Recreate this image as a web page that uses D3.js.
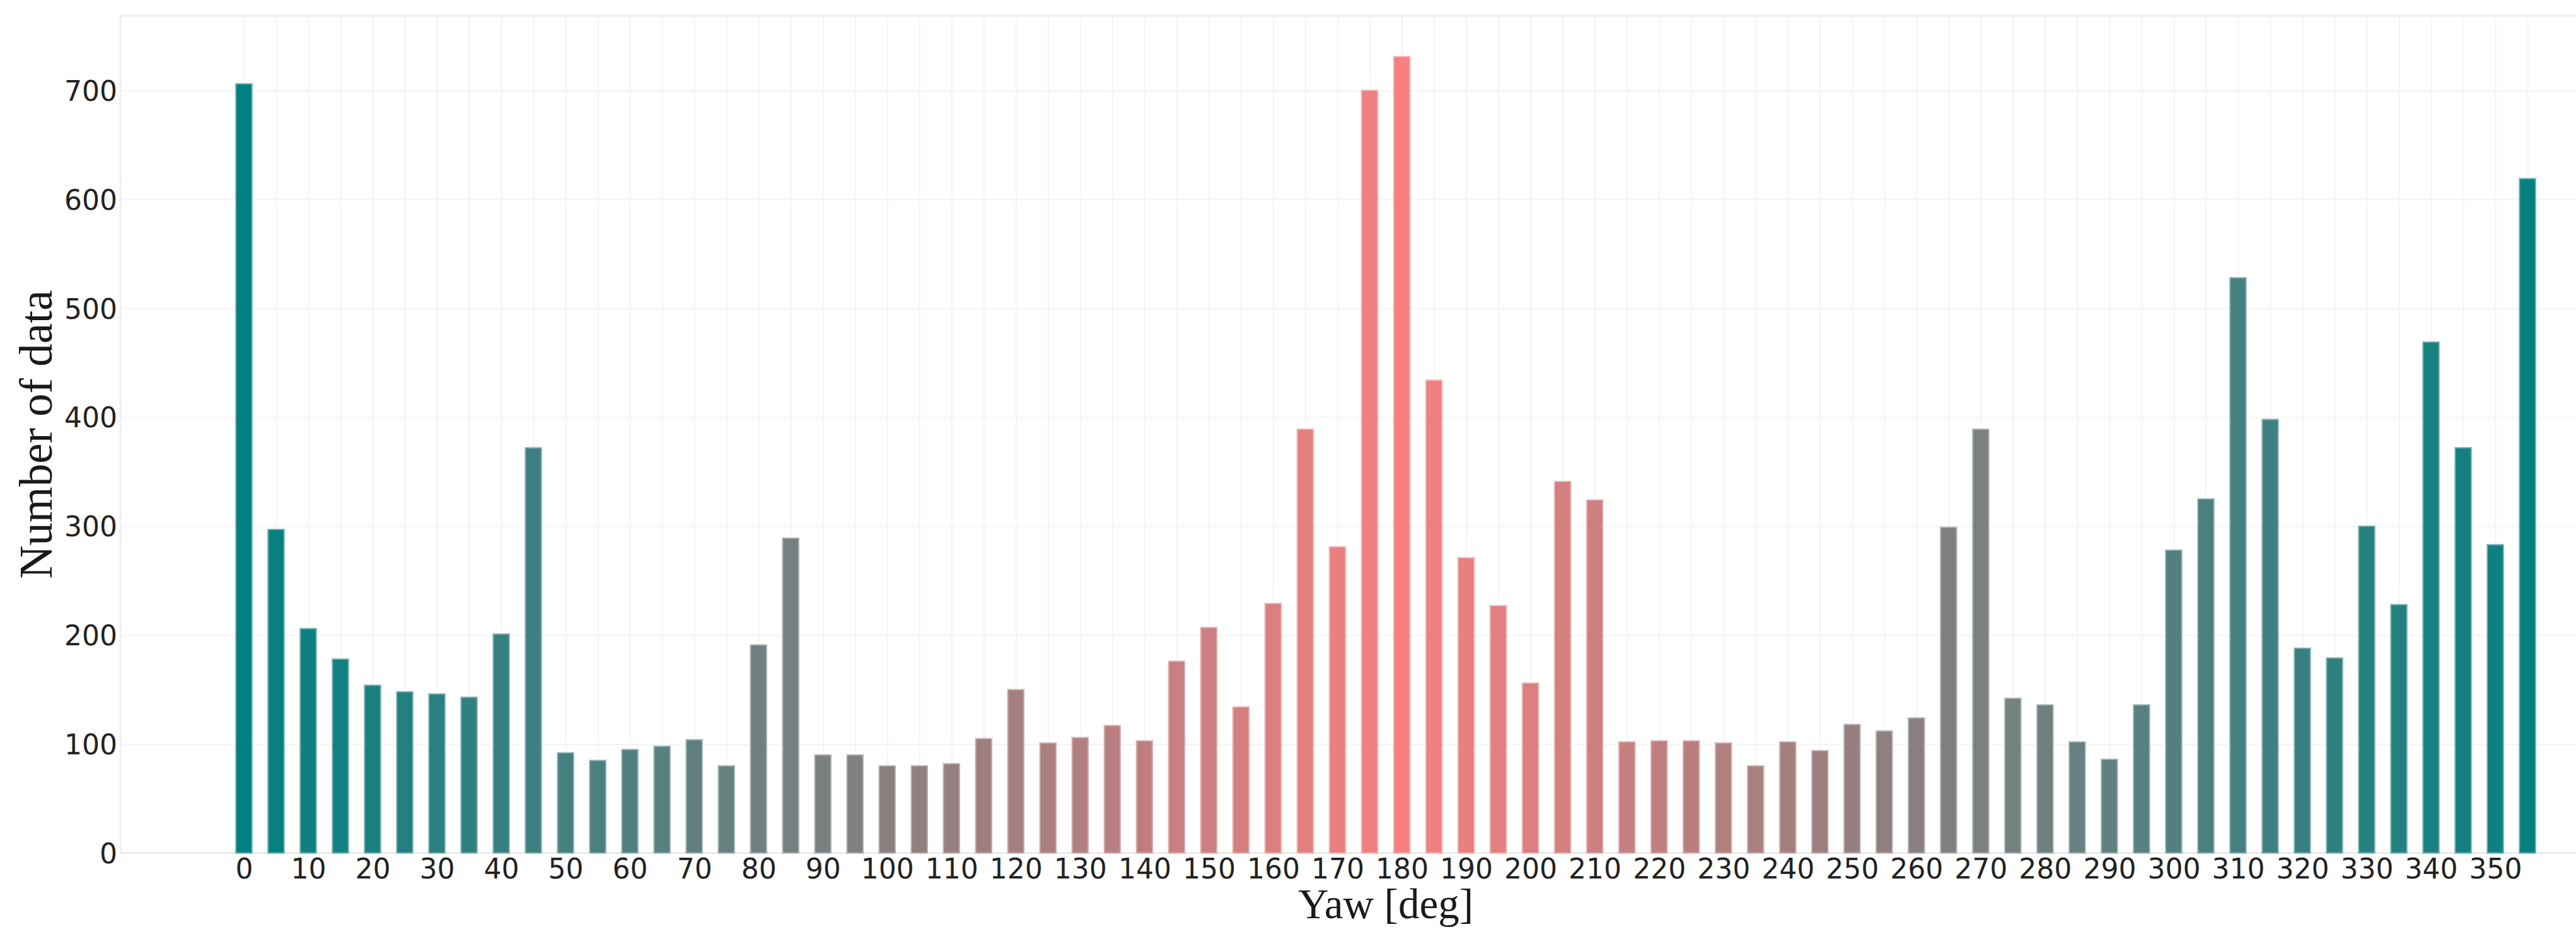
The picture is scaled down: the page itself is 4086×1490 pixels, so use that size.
<!DOCTYPE html>
<html>
<head>
<meta charset="utf-8">
<title>Yaw histogram</title>
<script src="https://cdn.jsdelivr.net/npm/d3@7"></script>
<style>
  body { margin: 0; background: #ffffff; }
  svg { display: block; overflow: hidden; }
  .tick-label { font-family: "DejaVu Sans", Verdana, sans-serif; font-size: 44px; fill: #222222; }
  .title { font-family: "Liberation Serif", "Times New Roman", serif; fill: #1a1a1a; }
</style>
</head>
<body>
<script>
// yaw bins (deg) and number of samples in each bin
var yawBins = [0, 5, 10, 15, 20, 25, 30, 35, 40, 45, 50, 55, 60, 65, 70, 75, 80, 85,
  90, 95, 100, 105, 110, 115, 120, 125, 130, 135, 140, 145, 150, 155, 160, 165, 170, 175,
  180, 185, 190, 195, 200, 205, 210, 215, 220, 225, 230, 235, 240, 245, 250, 255, 260, 265,
  270, 275, 280, 285, 290, 295, 300, 305, 310, 315, 320, 325, 330, 335, 340, 345, 350, 355];
var counts = [706, 297, 206, 178, 154, 148, 146, 143, 201, 372, 92, 85, 95, 98, 104, 80, 191, 289,
  90, 90, 80, 80, 82, 105, 150, 101, 106, 117, 103, 176, 207, 134, 229, 389, 281, 700,
  731, 434, 271, 227, 156, 341, 324, 102, 103, 103, 101, 80, 102, 94, 118, 112, 124, 299,
  389, 142, 136, 102, 86, 136, 278, 325, 528, 398, 188, 179, 300, 228, 469, 372, 283, 619];

// tick labels
var xTickLabels = [0, 10, 20, 30, 40, 50, 60, 70, 80, 90, 100, 110, 120, 130, 140, 150, 160, 170,
  180, 190, 200, 210, 220, 230, 240, 250, 260, 270, 280, 290, 300, 310, 320, 330, 340, 350];
var yTickLabels = [0, 100, 200, 300, 400, 500, 600, 700];

// canvas and plot area (the right edge of the plot runs past the picture)
var canvasX = 4086;
var canvasY = 1490;
var plotLeft = 191;
var plotRight = 4205;
var plotTop = 25;
var plotBottom = 1353.6;

var svg = d3.select("body")
            .append("svg")
            .attr("width", canvasX)
            .attr("height", canvasY);

svg.append("rect")
   .attr("width", canvasX)
   .attr("height", canvasY)
   .attr("fill", "#ffffff");

// scales
var scaleX = d3.scaleLinear()
               .domain([-19.2, 374.2])
               .range([plotLeft, plotRight]);

var scaleY = d3.scaleLinear()
               .domain([0, 768.5])
               .range([plotBottom, plotTop]);

// teal at 0/360 deg, light coral at 180 deg
var colour = d3.scaleLinear()
               .domain([0, 180, 360])
               .range(["#008080", "#f77f7f", "#008080"])
               .interpolate(d3.interpolateRgb);

// frame lines
svg.append("line")
   .attr("x1", plotLeft).attr("x2", plotRight)
   .attr("y1", plotTop).attr("y2", plotTop)
   .attr("stroke", "#efefef").attr("stroke-width", 3);
svg.append("line")
   .attr("x1", plotLeft).attr("x2", plotLeft)
   .attr("y1", plotTop).attr("y2", plotBottom)
   .attr("stroke", "#efefef").attr("stroke-width", 3);

// vertical grid at every bin
var xGrid = d3.axisBottom(scaleX)
              .tickValues(yawBins)
              .tickSize(-(plotBottom - plotTop))
              .tickFormat("");
svg.append("g")
   .attr("transform", "translate(0," + plotBottom + ")")
   .call(xGrid)
   .call(function(g) { g.select(".domain").remove(); })
   .selectAll("line")
   .attr("stroke", "#f3f3f3")
   .attr("stroke-width", 2);

// horizontal grid
var yGrid = d3.axisLeft(scaleY)
              .tickValues(yTickLabels.slice(1))
              .tickSize(-(plotRight - plotLeft))
              .tickFormat("");
svg.append("g")
   .attr("transform", "translate(" + plotLeft + ",0)")
   .call(yGrid)
   .call(function(g) { g.select(".domain").remove(); })
   .selectAll("line")
   .attr("stroke", "#f3f3f3")
   .attr("stroke-width", 2);

// zero line
svg.append("line")
   .attr("x1", plotLeft).attr("x2", plotRight)
   .attr("y1", scaleY(0)).attr("y2", scaleY(0))
   .attr("stroke", "#ebebeb").attr("stroke-width", 3);

// bars
var barWidth = (scaleX(5) - scaleX(0)) * 0.5;
svg.selectAll(".bar")
   .data(counts)
   .enter()
   .append("rect")
   .attr("class", "bar")
   .attr("x", function(d, i) { return scaleX(yawBins[i]) - barWidth / 2; })
   .attr("y", function(d) { return scaleY(d); })
   .attr("width", barWidth)
   .attr("height", function(d) { return scaleY(0) - scaleY(d); })
   .attr("fill", function(d, i) { return colour(yawBins[i]); })
   .attr("stroke", function(d, i) { return d3.interpolateRgb(colour(yawBins[i]), "#ffffff")(0.4); })
   .attr("stroke-width", 2);

// x tick labels
var xAxis = d3.axisBottom(scaleX)
              .tickValues(xTickLabels)
              .tickSize(0)
              .tickPadding(0);
var gx = svg.append("g")
            .attr("transform", "translate(0," + plotBottom + ")")
            .call(xAxis);
gx.select(".domain").remove();
gx.selectAll("text")
  .attr("class", "tick-label")
  .attr("y", 40)
  .attr("dy", 0);

// y tick labels
var yAxis = d3.axisLeft(scaleY)
              .tickValues(yTickLabels)
              .tickSize(0)
              .tickPadding(5);
var gy = svg.append("g")
            .attr("transform", "translate(" + plotLeft + ",0)")
            .call(yAxis);
gy.select(".domain").remove();
gy.selectAll("text")
  .attr("class", "tick-label")
  .attr("dy", "0.36em");

// axis titles
svg.append("text")
   .attr("class", "title")
   .attr("x", (plotLeft + plotRight) / 2)
   .attr("y", 1457)
   .attr("text-anchor", "middle")
   .style("font-size", "67px")
   .text("Yaw [deg]");

svg.append("text")
   .attr("class", "title")
   .attr("transform", "translate(82," + ((plotTop + plotBottom) / 2) + ") rotate(-90)")
   .attr("text-anchor", "middle")
   .style("font-size", "73px")
   .text("Number of data");
</script>
</body>
</html>
